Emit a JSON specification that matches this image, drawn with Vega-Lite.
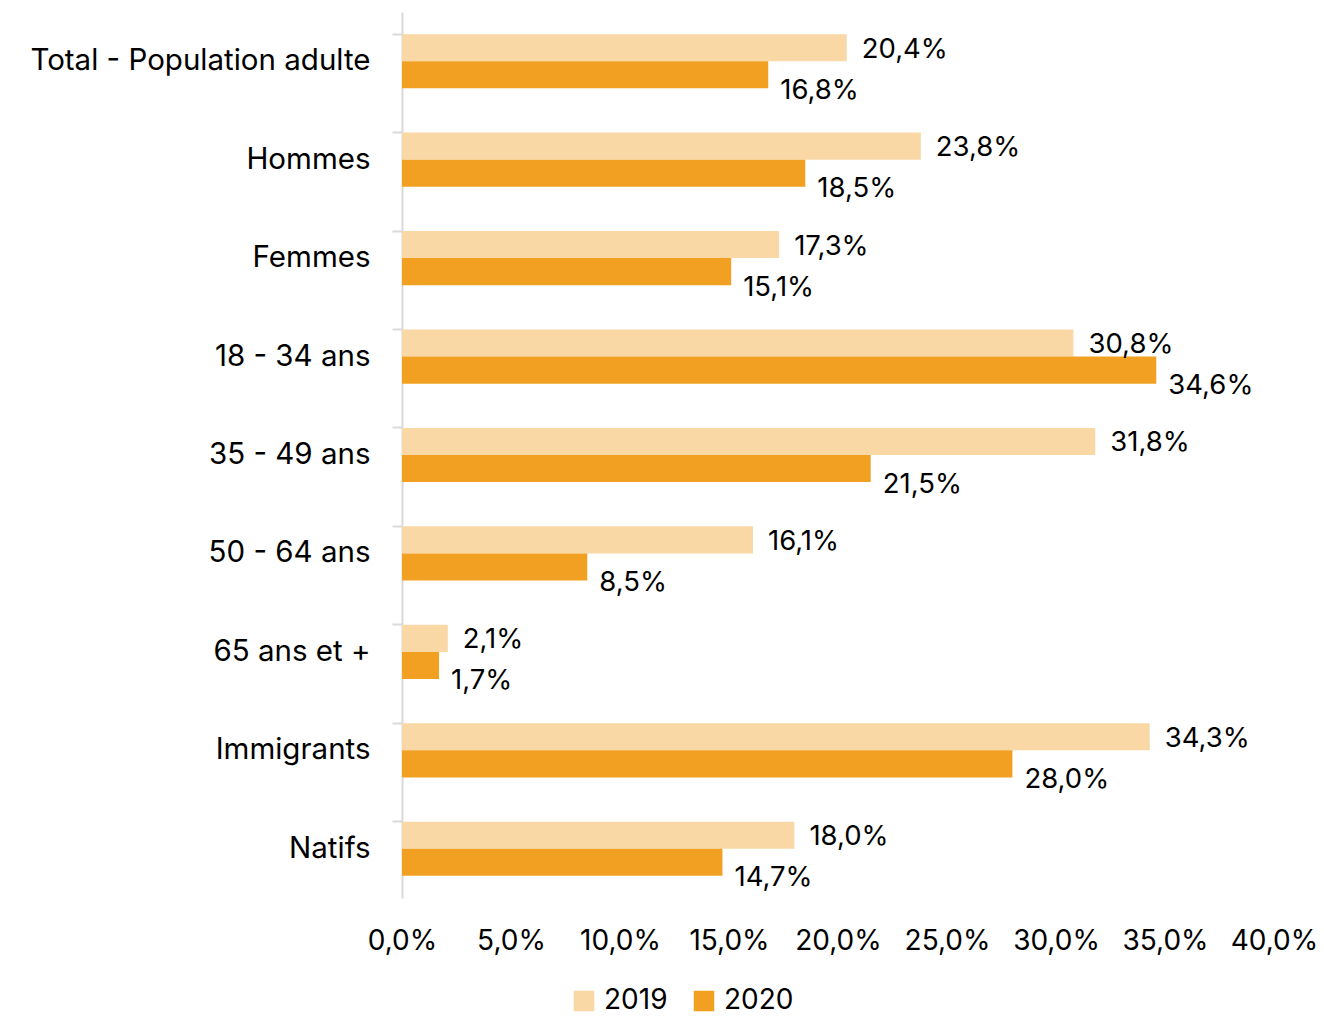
{
  "$schema": "https://vega.github.io/schema/vega-lite/v6.json",
  "width": 872,
  "height": 886,
  "autosize": "none",
  "padding": {"left": 402, "top": 12, "right": 50, "bottom": 120},
  "background": "white",
  "data": {
    "values": [
      {"cat": "Total - Population adulte", "year": "2019", "v": 0.204},
      {"cat": "Total - Population adulte", "year": "2020", "v": 0.168},
      {"cat": "Hommes", "year": "2019", "v": 0.238},
      {"cat": "Hommes", "year": "2020", "v": 0.185},
      {"cat": "Femmes", "year": "2019", "v": 0.173},
      {"cat": "Femmes", "year": "2020", "v": 0.151},
      {"cat": "18 - 34 ans", "year": "2019", "v": 0.308},
      {"cat": "18 - 34 ans", "year": "2020", "v": 0.346},
      {"cat": "35 - 49 ans", "year": "2019", "v": 0.318},
      {"cat": "35 - 49 ans", "year": "2020", "v": 0.215},
      {"cat": "50 - 64 ans", "year": "2019", "v": 0.161},
      {"cat": "50 - 64 ans", "year": "2020", "v": 0.085},
      {"cat": "65 ans et +", "year": "2019", "v": 0.021},
      {"cat": "65 ans et +", "year": "2020", "v": 0.017},
      {"cat": "Immigrants", "year": "2019", "v": 0.343},
      {"cat": "Immigrants", "year": "2020", "v": 0.280},
      {"cat": "Natifs", "year": "2019", "v": 0.180},
      {"cat": "Natifs", "year": "2020", "v": 0.147}
    ]
  },
  "encoding": {
    "y": {
      "field": "cat",
      "type": "nominal",
      "sort": null,
      "title": null,
      "scale": {"paddingInner": 0.45, "paddingOuter": 0.225},
      "axis": {
        "bandPosition": 0,
        "domainColor": "#d9d9d9",
        "domainWidth": 2,
        "tickColor": "#d9d9d9",
        "tickWidth": 2,
        "tickSize": 10,
        "labelPadding": 22,
        "labelFontSize": 29.5,
        "labelColor": "#000000",
        "labelFont": "Inter",
        "labelLimit": 500
      }
    },
    "yOffset": {"field": "year", "type": "nominal", "scale": {"padding": 0}},
    "x": {
      "field": "v",
      "type": "quantitative",
      "title": null,
      "scale": {"domain": [0, 0.4], "nice": false},
      "axis": {
        "values": [0, 0.05, 0.1, 0.15, 0.2, 0.25, 0.3, 0.35, 0.4],
        "format": ".1%",
        "grid": false,
        "domain": false,
        "ticks": false,
        "labelPadding": 29,
        "labelFontSize": 28,
        "labelColor": "#000000",
        "labelFont": "Inter",
        "labelFlush": false
      }
    }
  },
  "layer": [
    {
      "mark": {"type": "bar"},
      "encoding": {
        "color": {
          "field": "year",
          "type": "nominal",
          "title": null,
          "scale": {"domain": ["2019", "2020"], "range": ["#F9D8A6", "#F1A022"]},
          "legend": {
            "orient": "none",
            "legendX": 168,
            "legendY": 975,
            "direction": "horizontal",
            "symbolType": "square",
            "symbolSize": 420,
            "symbolStrokeWidth": 0,
            "labelFontSize": 28,
            "labelFont": "Inter",
            "labelColor": "#000000",
            "labelOffset": 6,
            "columnPadding": 22
          }
        }
      }
    },
    {
      "transform": [{"filter": "datum.year == '2019'"}],
      "mark": {"type": "text", "align": "left", "baseline": "middle", "dx": 15, "dy": 2, "fontSize": 27.5, "font": "Inter", "color": "#000000"},
      "encoding": {"text": {"field": "v", "type": "quantitative", "format": ".1%"}}
    },
    {
      "transform": [{"filter": "datum.year == '2020'"}],
      "mark": {"type": "text", "align": "left", "baseline": "middle", "dx": 12, "dy": 16, "fontSize": 27.5, "font": "Inter", "color": "#000000"},
      "encoding": {"text": {"field": "v", "type": "quantitative", "format": ".1%"}}
    }
  ],
  "config": {
    "view": {"stroke": null},
    "locale": {"number": {"decimal": ",", "thousands": " ", "grouping": [3], "currency": ["", " €"]}}
  }
}
